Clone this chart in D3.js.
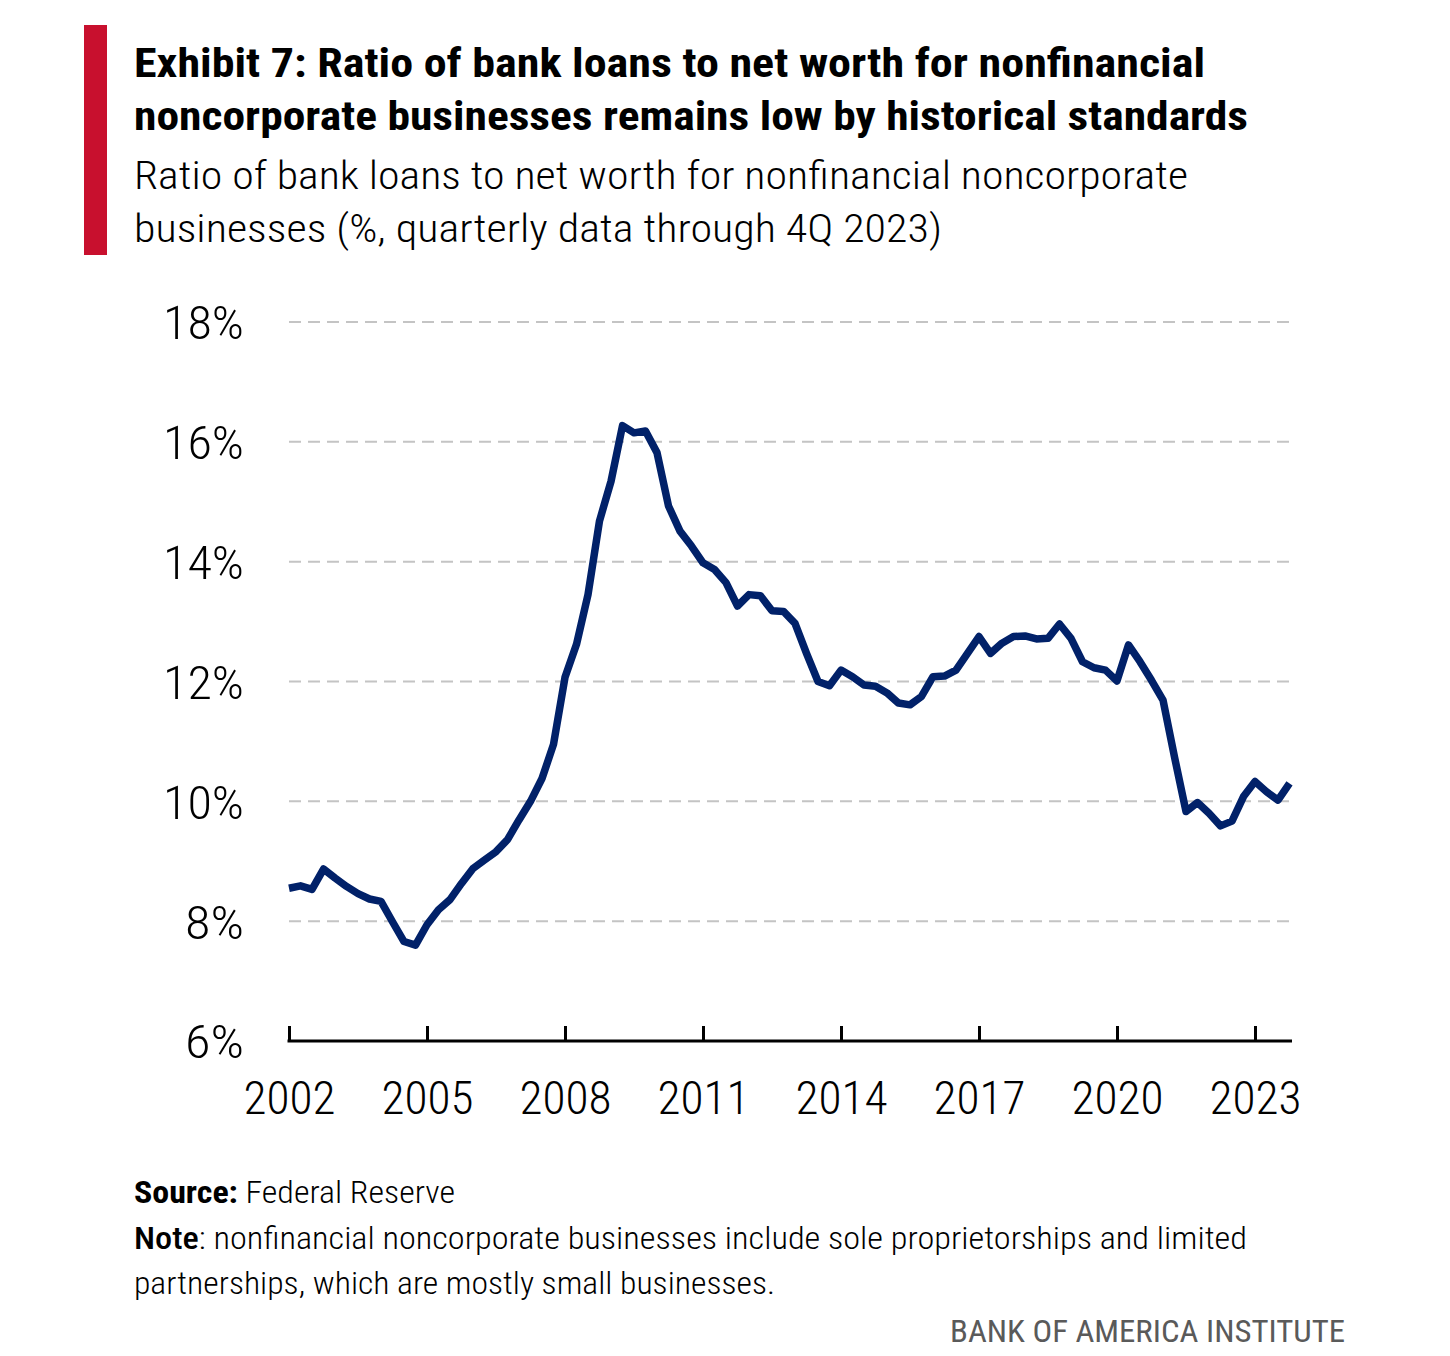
<!DOCTYPE html>
<html>
<head>
<meta charset="utf-8">
<script src="https://cdn.jsdelivr.net/npm/d3@7"></script>
<style>
  html, body { margin: 0; padding: 0; background: #fff; }
  svg { display: block; }
  .cond { font-family: "Liberation Sans Narrow", "Roboto Condensed", "Roboto", "Open Sans", "Liberation Sans", sans-serif; }
</style>
</head>
<body>
<div id="chart"></div>
<script>
// ---------------- DATA ----------------
const startYear = 2002;
const endYear = 2023;
// Quarterly ratio (%), 2002Q1 .. 2023Q4
const ratio = [
  8.55, 8.59, 8.53, 8.87,   // 2002
  8.72, 8.58, 8.46, 8.37,   // 2003
  8.33, 7.99, 7.66, 7.60,   // 2004
  7.94, 8.19, 8.36, 8.63,   // 2005
  8.88, 9.02, 9.16, 9.36,   // 2006
  9.69, 10.00, 10.38, 10.95, // 2007
  12.07, 12.62, 13.45, 14.68, // 2008
  15.34, 16.27, 16.15, 16.18, // 2009
  15.82, 14.93, 14.51, 14.26, // 2010
  13.98, 13.87, 13.65, 13.26, // 2011
  13.45, 13.43, 13.18, 13.17, // 2012
  12.97, 12.47, 12.00, 11.93, // 2013
  12.19, 12.08, 11.94, 11.92, // 2014
  11.81, 11.64, 11.61, 11.75, // 2015
  12.08, 12.09, 12.19, 12.47, // 2016
  12.75, 12.47, 12.64, 12.75, // 2017
  12.76, 12.71, 12.72, 12.96, // 2018
  12.72, 12.33, 12.23, 12.19, // 2019
  12.01, 12.61, 12.33, 12.02, // 2020
  11.69, 10.74, 9.83, 9.98,   // 2021
  9.80, 9.59, 9.67, 10.08,    // 2022
  10.33, 10.16, 10.02, 10.30  // 2023
];
const xTickYears = [2002, 2005, 2008, 2011, 2014, 2017, 2020, 2023];
const yTicks = [6, 8, 10, 12, 14, 16, 18];

const titleLines = [
  "Exhibit 7: Ratio of bank loans to net worth for nonfinancial",
  "noncorporate businesses remains low by historical standards"
];
const subtitleLines = [
  "Ratio of bank loans to net worth for nonfinancial noncorporate",
  "businesses (%, quarterly data through 4Q 2023)"
];
const noteLine1 = "nonfinancial noncorporate businesses include sole proprietorships and limited";
const noteLine2 = "partnerships, which are mostly small businesses.";

// ---------------- DRAW ----------------
const W = 1450, H = 1356;
const svg = d3.select("#chart").append("svg")
  .attr("width", W).attr("height", H).attr("class", "cond");

const navy = "#012169";
const red = "#C8102E";

// red accent bar
svg.append("rect").attr("x", 84).attr("y", 25).attr("width", 23).attr("height", 230).attr("fill", red);

// title
const tLens = [1071, 1114];
const tBase = [77, 130];
titleLines.forEach((t, i) => {
  svg.append("text").attr("x", 134).attr("y", tBase[i])
    .attr("font-size", 41).attr("font-weight", 700).attr("fill", "#000")
    .attr("textLength", tLens[i]).attr("lengthAdjust", "spacingAndGlyphs")
    .text(t);
});
const sLens = [1054, 808];
const sBase = [189, 242];
subtitleLines.forEach((t, i) => {
  svg.append("text").attr("x", 134).attr("y", sBase[i])
    .attr("font-size", 39).attr("font-weight", 300).attr("fill", "#000")
    .attr("textLength", sLens[i]).attr("lengthAdjust", "spacingAndGlyphs")
    .text(t);
});

// scales
const data = ratio.map((v, i) => ({ t: startYear + i / 4, v }));
const x = d3.scaleLinear().domain([startYear, endYear + 0.75]).range([289, 1289.5]);
const y = d3.scaleLinear().domain([6, 18]).range([1041, 322]);

// gridlines
svg.append("g").selectAll("line")
  .data(yTicks.filter(d => d > 6))
  .join("line")
  .attr("x1", 289).attr("x2", 1292)
  .attr("y1", d => y(d)).attr("y2", d => y(d))
  .attr("stroke", "#c4c4c4").attr("stroke-width", 2)
  .attr("stroke-dasharray", "12,7");

// y axis labels
const yAxis = svg.append("g").attr("transform", "translate(244,0)")
  .call(d3.axisLeft(y).tickValues(yTicks).tickSize(0).tickPadding(0).tickFormat(d => d + "%"));
yAxis.attr("font-family", null).attr("font-size", null);
yAxis.select(".domain").remove();
yAxis.selectAll("text")
  .attr("class", "cond")
  .attr("font-size", 47).attr("font-weight", 300).attr("fill", "#000")
  .attr("dy", "0.36em")
  .attr("textLength", d => d >= 10 ? 81 : 59)
  .attr("lengthAdjust", "spacingAndGlyphs");

// x axis
const xAxis = svg.append("g").attr("transform", "translate(0,1041)")
  .call(d3.axisBottom(x).tickValues(xTickYears).tickSize(-15).tickPadding(0).tickFormat(d3.format("d")));
xAxis.attr("font-family", null).attr("font-size", null);
xAxis.select(".domain").attr("d", "M287.5,0H1292").attr("stroke", "#000").attr("stroke-width", 3);
xAxis.selectAll(".tick line").attr("stroke", "#000").attr("stroke-width", 3);
xAxis.selectAll(".tick text")
  .attr("class", "cond")
  .attr("font-size", 47).attr("font-weight", 300).attr("fill", "#000")
  .attr("y", 73).attr("dy", 0)
  .attr("textLength", 92).attr("lengthAdjust", "spacingAndGlyphs");

// line
svg.append("path").datum(data)
  .attr("fill", "none").attr("stroke", navy).attr("stroke-width", 7.5)
  .attr("stroke-linejoin", "round").attr("stroke-linecap", "butt")
  .attr("d", d3.line().x(d => x(d.t)).y(d => y(d.v)));

// footer
const src = svg.append("text").attr("x", 134).attr("y", 1203).attr("font-size", 32).attr("fill", "#000");
src.append("tspan").attr("font-weight", 700).text("Source:");
src.append("tspan").attr("font-weight", 300).text(" Federal Reserve");
src.attr("textLength", 321).attr("lengthAdjust", "spacingAndGlyphs");

const note = svg.append("text").attr("x", 134).attr("y", 1249).attr("font-size", 32).attr("fill", "#000")
  .attr("textLength", 1113).attr("lengthAdjust", "spacingAndGlyphs");
note.append("tspan").attr("font-weight", 500).text("Note");
note.append("tspan").attr("font-weight", 300).text(": " + noteLine1);

svg.append("text").attr("x", 134).attr("y", 1294).attr("font-size", 32).attr("font-weight", 300).attr("fill", "#000")
  .attr("textLength", 641).attr("lengthAdjust", "spacingAndGlyphs")
  .text(noteLine2);

svg.append("text").attr("x", 1345).attr("y", 1342).attr("text-anchor", "end")
  .attr("font-size", 31).attr("fill", "#5a5a5a")
  .attr("textLength", 395).attr("lengthAdjust", "spacingAndGlyphs")
  .text("BANK OF AMERICA INSTITUTE");
</script>
</body>
</html>
